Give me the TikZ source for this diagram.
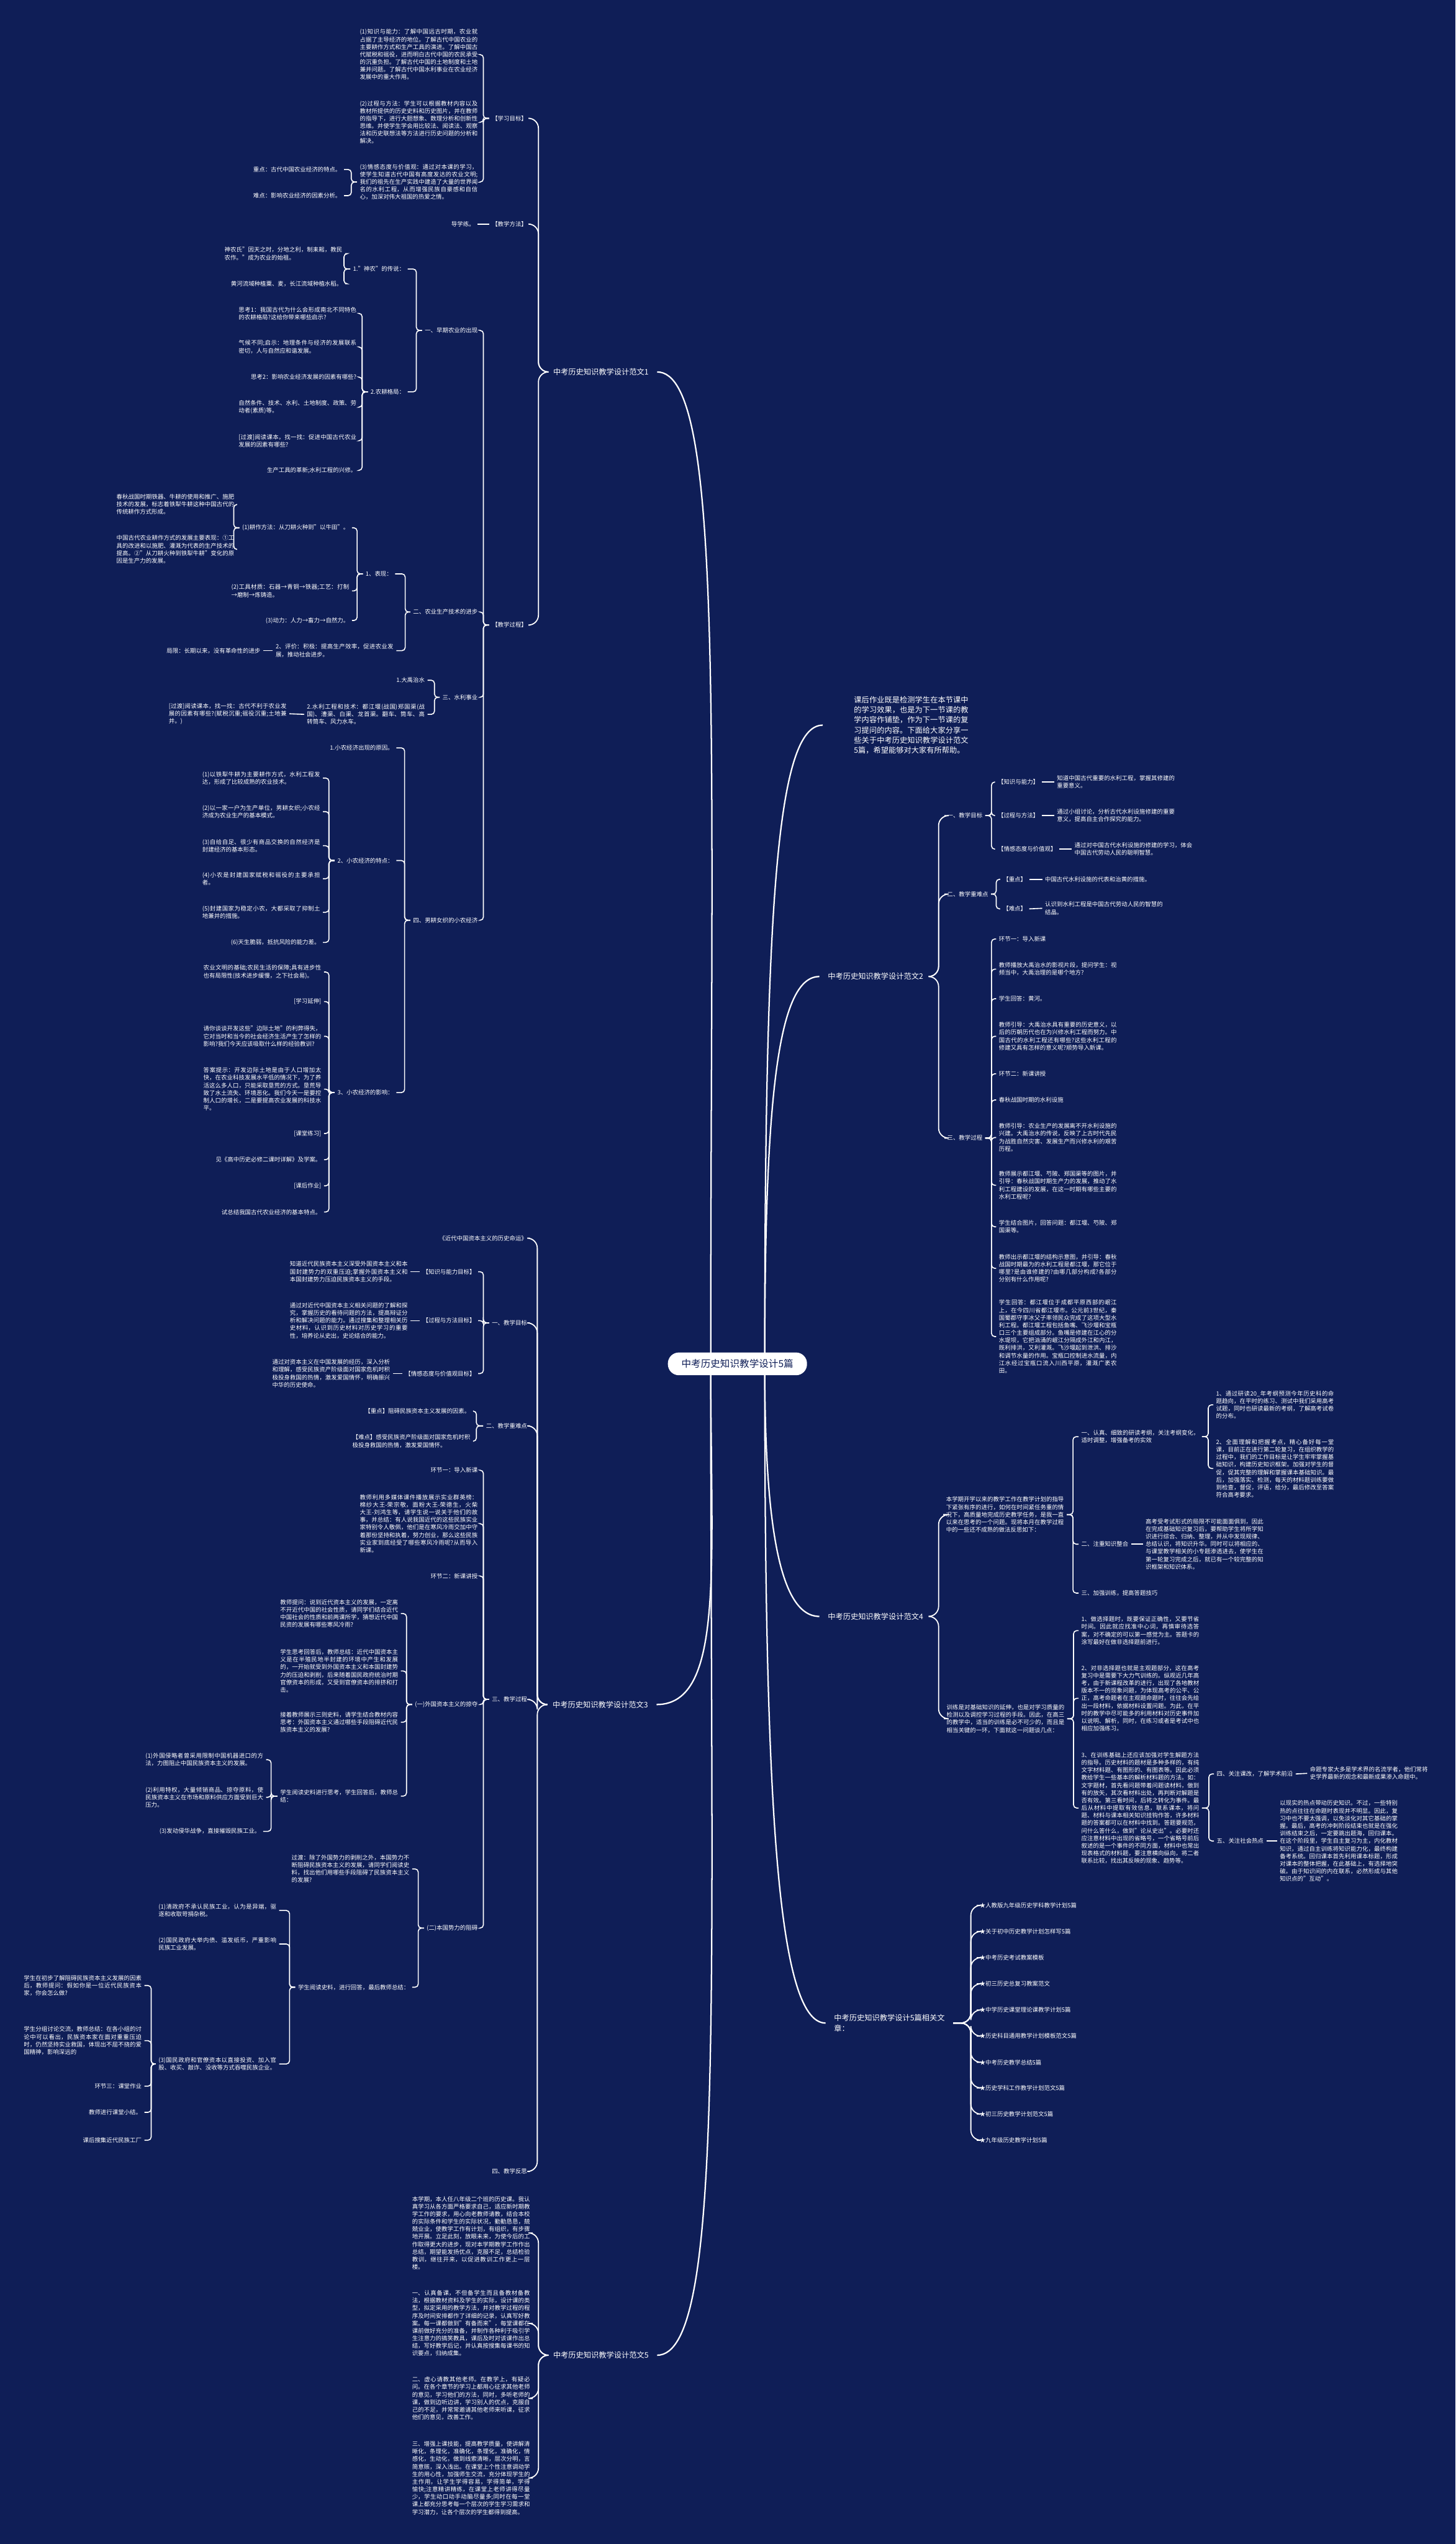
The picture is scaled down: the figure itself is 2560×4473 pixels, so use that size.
\documentclass[tikz,border=0pt]{standalone}
\usepackage{fontspec}
\setmainfont{Noto Sans CJK SC}
\usetikzlibrary{backgrounds}
\XeTeXlinebreaklocale "zh"
\XeTeXlinebreakskip=0pt plus 1pt
\tolerance=9999
\emergencystretch=4pt
\definecolor{bgnavy}{HTML}{0F1E57}
\newcommand{\fsS}{\fontsize{2.93pt}{3.78pt}\selectfont}
\newcommand{\fsH}{\fontsize{3.8pt}{5.06pt}\selectfont}
\newcommand{\fsR}{\fontsize{4.84pt}{6pt}\selectfont}

\begin{document}
\begin{tikzpicture}[
    x=0.01cm, y=-0.01cm,
    every node/.style={text=white, inner sep=0pt, outer xsep=0.05cm},
    lbl/.style={font=\fsS},
    txt/.style={font=\fsS, text width=2.07cm, align=justify},
    ll/.style={lbl, anchor=east}, lt/.style={txt, anchor=east},
    rl/.style={lbl, anchor=west}, rt/.style={txt, anchor=west},
    head/.style={font=\fsH, outer xsep=0.15cm},
    root/.style={font=\fsR, fill=white, text=bgnavy, rounded corners=5.5pt, inner xsep=0.24cm, minimum height=0.4cm},
    link/.style={draw=white, line width=0.5pt, rounded corners=1.6pt},
    trunk/.style={draw=white, line width=0.55pt, rounded corners=5pt},
    branch/.style={draw=white, line width=0.7pt}
]
\useasboundingbox (0,0) rectangle (2560,4473);

\node[root] (root) at (1297,2398) {中考历史知识教学设计5篇};

% intro
\node[font=\fsH, text width=2.01cm, align=justify, anchor=west, outer xsep=0.55cm] (intro) at (1447,1275) {课后作业既是检测学生在本节课中的学习效果，也是为下一节课的教学内容作铺垫，作为下一节课的复习提问的内容。下面给大家分享一些关于中考历史知识教学设计范文5篇，希望能够对大家有所帮助。};

% ---------- 范文1 ----------
\node[head, anchor=west] (f1) at (958,654) {中考历史知识教学设计范文1};
\node[ll] (f1a) at (932,208) {【学习目标】};
\node[ll] (f1b) at (932,394) {【教学方法】};
\node[ll] (f1c) at (932,1099) {【教学过程】};

\node[lt] (f1a1) at (845,96) {(1)知识与能力：了解中国远古时期，农业就占据了主导经济的地位。了解古代中国农业的主要耕作方式和生产工具的演进。了解中国古代赋税和徭役，进而明白古代中国的农民承受的沉重负担。了解古代中国的土地制度和土地兼并问题。了解古代中国水利事业在农业经济发展中的重大作用。};
\node[lt] (f1a2) at (845,215) {(2)过程与方法：学生可以根据教材内容以及教材所提供的历史史料和历史图片，并在教师的指导下，进行大胆想象、数理分析和创新性思维。并使学生学会用比较法、阅读法、观察法和历史联想法等方法进行历史问题的分析和解决。};
\node[lt] (f1a3) at (845,320) {(3)情感态度与价值观：通过对本课的学习，使学生知道古代中国有高度发达的农业文明;我们的祖先在生产实践中建造了大量的世界闻名的水利工程，从而增强民族自豪感和自信心，加深对伟大祖国的热爱之情。};
\node[ll] (f1a3a) at (605,298) {重点：古代中国农业经济的特点。};
\node[ll] (f1a3b) at (605,344) {难点：影响农业经济的因素分析。};
\node[ll] (f1b1) at (840,394) {导学练。};

\node[ll] (f1c1) at (845,581) {一、早期农业的出现};
\node[ll] (f1c2) at (845,1076) {二、农业生产技术的进步};
\node[ll] (f1c3) at (845,1226) {三、水利事业};
\node[ll] (f1c4) at (845,1618) {四、男耕女织的小农经济};

\node[ll] (f1c1a) at (717,473) {1."神农"的传说：};
\node[ll] (f1c1b) at (717,689) {2.农耕格局：};
\node[lt] (f1c1a1) at (607,446) {神农氏"因天之时，分地之利，制耒耜，教民农作。"成为农业的始祖。};
\node[ll] (f1c1a2) at (607,499) {黄河流域种植粟、麦，长江流域种植水稻。};
\node[lt] (f1c1b1) at (632,551) {思考1：我国古代为什么会形成南北不同特色的农耕格局?这给你带来哪些启示?};
\node[lt] (f1c1b2) at (632,610) {气候不同;启示：地理条件与经济的发展联系密切，人与自然应和谐发展。};
\node[ll] (f1c1b3) at (632,663) {思考2：影响农业经济发展的因素有哪些?};
\node[lt] (f1c1b4) at (632,716) {自然条件、技术、水利、土地制度、政策、劳动者(素质)等。};
\node[lt] (f1c1b5) at (632,775) {[过渡]阅读课本，找一找：促进中国古代农业发展的因素有哪些?};
\node[ll] (f1c1b6) at (632,827) {生产工具的革新;水利工程的兴修。};

\node[ll] (f1c2a) at (695,1009) {1、表现：};
\node[lt] (f1c2b) at (697,1144) {2、评价：积极：提高生产效率，促进农业发展，推动社会进步。};
\node[ll] (f1c2b1) at (463,1144) {局限：长期以来，没有革命性的进步};
\node[ll] (f1c2a1) at (619,928) {(1)耕作方法：从刀耕火种到"以牛田"。};
\node[lt] (f1c2a2) at (619,1039) {(2)工具材质：石器→青铜→铁器;工艺：打制→磨制→炼铸造。};
\node[ll] (f1c2a3) at (619,1091) {(3)动力：人力→畜力→自然力。};
\node[lt] (f1c2a1a) at (417,887) {春秋战国时期铁器、牛耕的使用和推广、施肥技术的发展，标志着铁犁牛耕这种中国古代的传统耕作方式形成。};
\node[lt] (f1c2a1b) at (417,966) {中国古代农业耕作方式的发展主要表现：①工具的改进和以施肥、灌溉为代表的生产技术的提高。②"从刀耕火种到铁犁牛耕"变化的原因是生产力的发展。};

\node[ll] (f1c3a) at (752,1196) {1.大禹治水};
\node[lt] (f1c3b) at (752,1256) {2.水利工程和技术：都江堰(战国)郑国渠(战国)、漕渠、白渠、龙首渠。翻车、筒车、高转筒车、风力水车。};
\node[lt] (f1c3b1) at (509,1255) {[过渡]阅读课本，找一找：古代不利于农业发展的因素有哪些?(赋税沉重;徭役沉重;土地兼并。)};

\node[ll] (f1c4a) at (697,1315) {1.小农经济出现的原因。};
\node[ll] (f1c4b) at (697,1513) {2、小农经济的特点：};
\node[ll] (f1c4c) at (697,1921) {3、小农经济的影响：};
\node[lt] (f1c4b1) at (568,1368) {(1)以铁犁牛耕为主要耕作方式，水利工程发达，形成了比较成熟的农业技术。};
\node[lt] (f1c4b2) at (568,1427) {(2)以一家一户为生产单位，男耕女织;小农经济成为农业生产的基本模式。};
\node[lt] (f1c4b3) at (568,1487) {(3)自给自足、很少有商品交换的自然经济是封建经济的基本形态。};
\node[lt] (f1c4b4) at (568,1545) {(4)小农是封建国家赋税和徭役的主要承担者。};
\node[lt] (f1c4b5) at (568,1604) {(5)封建国家为稳定小农，大都采取了抑制土地兼并的措施。};
\node[ll] (f1c4b6) at (568,1657) {(6)天生脆弱，抵抗风险的能力差。};
\node[lt] (f1c4c1) at (570,1709) {农业文明的基础;农民生活的保障;具有进步性也有局限性(技术进步缓慢，之下社会易)。};
\node[ll] (f1c4c2) at (570,1761) {[学习延伸]};
\node[lt] (f1c4c3) at (570,1822) {请你谈谈开发这些"边际土地"的利弊得失，它对当时和当今的社会经济生活产生了怎样的影响?我们今天应该吸取什么样的经验教训?};
\node[lt] (f1c4c4) at (570,1915) {答案提示：开发边际土地是由于人口增加太快，在农业科技发展水平低的情况下，为了养活这么多人口，只能采取垦荒的方式。垦荒导致了水土流失、环境恶化。我们今天一是要控制人口的增长，二是要提高农业发展的科技水平。};
\node[ll] (f1c4c5) at (570,1993) {[课堂练习]};
\node[ll] (f1c4c6) at (570,2039) {见《高中历史必修二课时详解》及学案。};
\node[ll] (f1c4c7) at (570,2085) {[课后作业]};
\node[ll] (f1c4c8) at (570,2131) {试总结我国古代农业经济的基本特点。};

% ---------- 范文3 ----------
\node[head, anchor=west] (f3) at (957,2997) {中考历史知识教学设计范文3};
\node[ll] (f3a) at (932,2177) {《近代中国资本主义的历史命运》};
\node[ll] (f3b) at (932,2326) {一、教学目标};
\node[ll] (f3c) at (932,2507) {二、教学重难点};
\node[ll] (f3d) at (932,2988) {三、教学过程};
\node[ll] (f3e) at (932,3818) {四、教学反思};

\node[ll] (f3b1) at (841,2236) {【知识与能力目标】};
\node[ll] (f3b2) at (841,2322) {【过程与方法目标】};
\node[ll] (f3b3) at (841,2415) {【情感态度与价值观目标】};
\node[lt] (f3b1t) at (722,2236) {知道近代民族资本主义深受外国资本主义和本国封建势力的双重压迫;掌握外国资本主义和本国封建势力压迫民族资本主义的手段。};
\node[lt] (f3b2t) at (722,2322) {通过对近代中国资本主义相关问题的了解和探究，掌握历史的看待问题的方法，提高辩证分析和解决问题的能力。通过搜集和整理相关历史材料，认识到历史材料对历史学习的重要性，培养论从史出，史论结合的能力。};
\node[lt] (f3b3t) at (691,2415) {通过对资本主义在中国发展的经历，深入分析和理解，感受民族资产阶级面对国家危机时积极投身救国的热情，激发爱国情怀，明确振兴中华的历史使命。};
\node[ll] (f3c1) at (832,2481) {【重点】阻碍民族资本主义发展的因素。};
\node[lt] (f3c2) at (832,2534) {【难点】感受民族资产阶级面对国家危机时积极投身救国的热情，激发爱国情怀。};

\node[ll] (f3d1) at (845,2585) {环节一：导入新课};
\node[lt] (f3d2) at (845,2679) {教师利用多媒体课件播放展示实业群英榜：棉纱大王-荣宗敬，面粉大王-荣德生，火柴大王-刘鸿生等，请学生说一说关于他们的故事，并总结：有人说我国近代的这些民族实业家特别令人敬佩，他们是在寒风冷雨交加中守着那份坚持和执着，努力创业，那么这些民族实业家到底经受了哪些寒风冷雨呢?从而导入新课。};
\node[ll] (f3d3) at (845,2771) {环节二：新课讲授};
\node[ll] (f3d4) at (845,2997) {(一)外国资本主义的掠夺};
\node[ll] (f3d5) at (845,3390) {(二)本国势力的阻碍};
\node[lt] (f3d4a) at (705,2837) {教师提问：说到近代资本主义的发展，一定离不开近代中国的社会性质，请同学们结合近代中国社会的性质和前两课所学，猜想近代中国民资的发展有哪些寒风冷雨?};
\node[lt] (f3d4b) at (705,2938) {学生思考回答后，教师总结：近代中国资本主义是在半殖民地半封建的环境中产生和发展的，一开始就受到外国资本主义和本国封建势力的压迫和剥削，后来随着国民政府统治时期官僚资本的形成，又受到官僚资本的排挤和打击。};
\node[lt] (f3d4c) at (705,3028) {接着教师展示三则史料，请学生结合教材内容思考：外国资本主义通过哪些手段阻碍近代民族资本主义的发展?};
\node[lt] (f3d4d) at (705,3158) {学生阅读史料进行思考，学生回答后，教师总结：};
\node[lt] (f3d4d1) at (468,3094) {(1)外国侵略者曾采用限制中国机器进口的方法，力图阻止中国民族资本主义的发展。};
\node[lt] (f3d4d2) at (468,3160) {(2)利用特权，大量倾销商品、掠夺原料，使民族资本主义在市场和原料供应方面受到巨大压力。};
\node[ll] (f3d4d3) at (463,3220) {(3)发动侵华战争，直接摧毁民族工业。};
\node[lt] (f3d5a) at (725,3286) {过渡：除了外国势力的剥削之外，本国势力不断阻碍民族资本主义的发展，请同学们阅读史料，找出他们用哪些手段阻碍了民族资本主义的发展?};
\node[ll] (f3d5b) at (725,3494) {学生阅读史料，进行回答，最后教师总结：};
\node[lt] (f3d5b1) at (491,3359) {(1)清政府不承认民族工业，认为是异端，驱逐和收取苛捐杂税。};
\node[lt] (f3d5b2) at (491,3418) {(2)国民政府大举内债、滥发纸币，严重影响民族工业发展。};
\node[lt] (f3d5b3) at (491,3629) {(3)国民政府和官僚资本以直接投资、加入官股、收买、敲诈、没收等方式吞噬民族企业。};
\node[lt] (f3d5b3a) at (254,3491) {学生在初步了解阻碍民族资本主义发展的因素后，教师提问：假如你是一位近代民族资本家，你会怎么做?};
\node[lt] (f3d5b3b) at (254,3588) {学生分组讨论交流，教师总结：在各小组的讨论中可以看出，民族资本家在面对重重压迫时，仍然坚持实业救国，体现出不屈不挠的爱国精神，影响深远的};
\node[ll] (f3d5b3c) at (254,3668) {环节三：课堂作业};
\node[ll] (f3d5b3d) at (254,3714) {教师进行课堂小结。};
\node[ll] (f3d5b3e) at (254,3763) {课后搜集近代民族工厂};

% ---------- 范文5 ----------
\node[head, anchor=west] (f5) at (958,4141) {中考历史知识教学设计范文5};
\node[lt] (f5a) at (937,3926) {本学期，本人任八年级二个班的历史课。我认真学习从各方面严格要求自己，适应新时期教学工作的要求，用心向老教师请教，结合本校的实际条件和学生的实际状况，勤勤恳恳，兢兢业业，使教学工作有计划，有组织，有步骤地开展。立足此刻，放眼未来，为使今后的工作取得更大的进步，现对本学期教学工作作出总结，期望能发扬优点，克服不足，总结检验教训，继往开来，以促进教训工作更上一层楼。};
\node[lt] (f5b) at (937,4085) {一、认真备课，不但备学生而且备教材备教法，根据教材资料及学生的实际，设计课的类型，拟定采用的教学方法，并对教学过程的程序及时间安排都作了详细的记录，认真写好教案。每一课都做到"有备而来"，每堂课都在课前做好充分的准备，并制作各种利于吸引学生注意力的搞笑教具，课后及时对该课作出总结，写好教学后记，并认真按搜集每课书的知识要点，归纳成集。};
\node[lt] (f5c) at (937,4217) {二、虚心请教其他老师。在教学上，有疑必问。在各个章节的学习上都用心征求其他老师的意见，学习他们的方法，同时，多听老师的课，做到边听边讲，学习别人的优点，克服自己的不足，并常常邀请其他老师来听课，征求他们的意见，改善工作。};
\node[lt] (f5d) at (937,4357) {三、增强上课技能，提高教学质量，使讲解清晰化，条理化，准确化，条理化，准确化，情感化，生动化，做到线索清晰，层次分明，言简意赅，深入浅出。在课堂上个性注意调动学生的用心性，加强师生交流，充分体现学生的主作用，让学生学得容易，学得简单，学得愉快;注意精讲精练，在课堂上老师讲得尽量少，学生动口动手动脑尽量多;同时在每一堂课上都充分思考每一个层次的学生学习需求和学习潜力，让各个层次的学生都得到提高。};

% ---------- 范文2 ----------
\node[head, anchor=west] (f2) at (1441,1717) {中考历史知识教学设计范文2};
\node[rl] (f2a) at (1661,1434) {一、教学目标};
\node[rl] (f2b) at (1661,1572) {二、教学重难点};
\node[rl] (f2c) at (1661,2001) {三、教学过程};
\node[rl] (f2a1) at (1750,1375) {【知识与能力】};
\node[rl] (f2a2) at (1750,1434) {【过程与方法】};
\node[rl] (f2a3) at (1750,1493) {【情感态度与价值观】};
\node[rt] (f2a1t) at (1854,1375) {知道中国古代重要的水利工程，掌握其修建的重要意义。};
\node[rt] (f2a2t) at (1854,1434) {通过小组讨论，分析古代水利设施修建的重要意义，提高自主合作探究的能力。};
\node[rt] (f2a3t) at (1885,1493) {通过对中国古代水利设施的修建的学习，体会中国古代劳动人民的聪明智慧。};
\node[rl] (f2b1) at (1759,1546) {【重点】};
\node[rl] (f2b2) at (1759,1598) {【难点】};
\node[rl] (f2b1t) at (1833,1546) {中国古代水利设施的代表和治黄的措施。};
\node[rt] (f2b2t) at (1833,1597) {认识到水利工程是中国古代劳动人民的智慧的结晶。};
\node[rl] (f2c1) at (1752,1651) {环节一：导入新课};
\node[rt] (f2c2) at (1752,1704) {教师播放大禹治水的影视片段，提问学生：视频当中，大禹治理的是哪个地方?};
\node[rl] (f2c3) at (1752,1756) {学生回答：黄河。};
\node[rt] (f2c4) at (1752,1822) {教师引导：大禹治水具有重要的历史意义，以后的历朝历代也在为兴修水利工程而努力。中国古代的水利工程还有哪些?这些水利工程的修建又具有怎样的意义呢?顺势导入新课。};
\node[rl] (f2c5) at (1752,1888) {环节二：新课讲授};
\node[rl] (f2c6) at (1752,1934) {春秋战国时期的水利设施};
\node[rt] (f2c7) at (1752,2000) {教师引导：农业生产的发展离不开水利设施的兴建。大禹治水的传说，反映了上古时代先民为战胜自然灾害、发展生产而兴修水利的艰苦历程。};
\node[rt] (f2c8) at (1752,2084) {教师展示都江堰、芍陂、郑国渠等的图片，并引导：春秋战国时期生产力的发展，推动了水利工程建设的发展，在这一时期有哪些主要的水利工程呢?};
\node[rt] (f2c9) at (1752,2157) {学生结合图片，回答问题：都江堰、芍陂、郑国渠等。};
\node[rt] (f2c10) at (1752,2230) {教师出示都江堰的结构示意图，并引导：春秋战国时期最为的水利工程是都江堰，那它位于哪里?是由谁修建的?由哪几部分构成?各部分分别有什么作用呢?};
\node[rt] (f2c11) at (1752,2350) {学生回答：都江堰位于成都平原西部的岷江上，在今四川省都江堰市。公元前3世纪，秦国蜀郡守李冰父子率领民众完成了这项大型水利工程。都江堰工程包括鱼嘴、飞沙堰和宝瓶口三个主要组成部分。鱼嘴是修建在江心的分水堤坝，它把汹涌的岷江分隔成外江和内江，既利排洪，又利灌溉。飞沙堰起到泄洪、排沙和调节水量的作用。宝瓶口控制进水流量，内江水经过宝瓶口流入川西平原，灌溉广袤农田。};

% ---------- 范文4 ----------
\node[head, anchor=west] (f4) at (1441,2842) {中考历史知识教学设计范文4};
\node[rt] (f4a) at (1659,2663) {本学期开学以来的教学工作在教学计划的指导下紧张有序的进行，如何在时间紧任务重的情况下，高质量地完成历史教学任务，是我一直以来在思考的一个问题。现将本月在教学过程中的一些还不成熟的做法反思如下：};
\node[rt] (f4a1) at (1897,2526) {一、认真、细致的研读考纲，关注考纲变化，适时调整，增强备考的实效};
\node[rt] (f4a1a) at (2134,2470) {1、通过研读20\_年考纲预测今年历史科的命题趋向，在平时的练习、测试中我们采用高考试题，同时也研读最新的考纲，了解高考试卷的分布。};
\node[rt] (f4a1b) at (2134,2582) {2、全面理解和把握考点，精心备好每一堂课，目前正在进行第二轮复习，在组织教学的过程中，我们的工作目标是让学生牢牢掌握基础知识，构建历史知识框架。加强对学生的督促，促其完整的理解和掌握课本基础知识。最后，加强落实、检测，每天的材料题训练要做到检查，督促，评语，给分，最后修改至答案符合高考要求。};
\node[rl] (f4a2) at (1897,2715) {二、注重知识整合};
\node[rt] (f4a2t) at (2010,2715) {高考受考试形式的局限不可能面面俱到，因此在完成基础知识复习后，要帮助学生将所学知识进行综合、归纳、整理，并从中发现规律、总结认识，将知识升华。同时可以将相应的、与课堂教学相关的小专题渗透进去，使学生在第一轮复习完成之后，就已有一个较完整的知识框架和知识体系。};
\node[rl] (f4a3) at (1897,2801) {三、加强训练，提高答题技巧};
\node[rt] (f4b) at (1660,3022) {训练是对基础知识的延伸，也是对学习质量的检测以及调控学习过程的手段。因此，在高三的教学中，适当的训练是必不可少的，而且是相当关键的一环，下面就这一问题谈几点：};
\node[rt] (f4b1) at (1897,2867) {1、做选择题时，既要保证正确性，又要节省时间。因此就应找准中心词，再慎审待选答案，对不确定的可以第一感觉为主。答题卡的涂写最好在做非选择题前进行。};
\node[rt] (f4b2) at (1897,2986) {2、对非选择题也就是主观题部分，这在高考复习中是需要下大力气训练的。纵观近几年高考，由于新课程改革的进行，出现了各地教材版本不一的现象问题，为体现高考的公平、公正，高考命题者在主观题命题时，往往会先给出一段材料，依据材料设置问题。为此，在平时的教学中尽可能多的利用材料对历史事件加以说明、解析，同时，在练习或者是考试中也相应加强练习。};
\node[rt] (f4b3) at (1897,3179) {3、在训练基础上还应该加强对学生解题方法的指导。历史材料的题材是多种多样的，有纯文字材料题、有图形的、有图表等。因此必须教给学生一些基本的解析材料题的方法。如：文字题材，首先看问题带着问题读材料，做到有的放矢，其次看材料出处，再判断对解题是否有效。第三看时间，后将之转化为事件。最后从材料中提取有效信息，联系课本，将问题、材料与课本相关知识挂钩作答，许多材料题的答案都可以在材料中找到。答题要规范，问什么答什么，做到"论从史出"。必要时还应注意材料中出现的省略号，一个省略号前后叙述的是一个事件的不同方面，材料中也常出现表格式的材料题，要注意横向纵向，将二者联系比较，找出其反映的现象、趋势等。};
\node[rl] (f4b3a) at (2135,3119) {四、关注课改，了解学术前沿};
\node[rt] (f4b3at) at (2299,3118) {命题专家大多是学术界的名流学者，他们常将史学界最新的观念和最新成果渗入命题中。};
\node[rl] (f4b3b) at (2135,3237) {五、关注社会热点};
\node[rt] (f4b3bt) at (2246,3237) {以现实的热点带动历史知识。不过，一些特别热的点往往在命题时表现并不明显。因此，复习中也不要太强调，以免淡化对其它基础的掌握。最后，高考的冲刺阶段结束也就是在强化训练结束之后，一定要跳出题海，回归课本。在这个阶段里，学生自主复习为主，内化教材知识，通过自主训练将知识能力化，最终构建备考系统。回归课本首先利用课本标题，形成对课本的整体把握，在此基础上，有选择地突破。由于知识间的内在联系，必然形成与其他知识点的"互动"。};

% ---------- 相关文章 ----------
\node[head, anchor=west, align=left] (rel) at (1452,3557) {中考历史知识教学设计5篇相关文\\章：};
\node[rl] (r1) at (1718,3350) {★人教版九年级历史学科教学计划5篇};
\node[rl] (r2) at (1718,3396) {★关于初中历史教学计划怎样写5篇};
\node[rl] (r3) at (1718,3442) {★中考历史考试教案模板};
\node[rl] (r4) at (1718,3488) {★初三历史总复习教案范文};
\node[rl] (r5) at (1718,3534) {★中学历史课堂理论课教学计划5篇};
\node[rl] (r6) at (1718,3580) {★历史科目通用教学计划模板范文5篇};
\node[rl] (r7) at (1718,3626) {★中考历史教学总结5篇};
\node[rl] (r8) at (1718,3671) {★历史学科工作教学计划范文5篇};
\node[rl] (r9) at (1718,3717) {★初三历史教学计划范文5篇};
\node[rl] (r10) at (1718,3763) {★九年级历史教学计划5篇};

% connectors
\begin{scope}[on background layer]
\fill[bgnavy] (0,0) rectangle (2560,4473);
\draw[branch] (1250,2398) .. controls (1250,1300) and (1275,654) .. (f1.east);
\draw[branch] (1250,2398) .. controls (1250,2750) and (1275,2997) .. (f3.east);
\draw[branch] (1250,2398) .. controls (1250,3500) and (1275,4141) .. (f5.east);
\draw[branch] (1345,2398) .. controls (1345,1600) and (1365,1275) .. (intro.west);
\draw[branch] (1345,2398) .. controls (1345,1950) and (1365,1717) .. (f2.west);
\draw[branch] (1345,2398) .. controls (1345,2650) and (1365,2842) .. (f4.west);
\draw[branch] (1345,2398) .. controls (1345,3150) and (1365,3557) .. (rel.west);

\foreach \c in {f1a,f1b,f1c} \draw[trunk] (f1.west) -- ++(-11,0) |- (\c.east);
\foreach \c in {f1a1,f1a2,f1a3} \draw[link] (f1a.west) -- ++(-10,0) |- (\c.east);
\foreach \c in {f1a3a,f1a3b} \draw[link] (f1a3.west) -- ++(-10,0) |- (\c.east);
\draw[link] (f1b.west) -- (f1b1.east);
\foreach \c in {f1c1,f1c2,f1c3,f1c4} \draw[link] (f1c.west) -- ++(-10,0) |- (\c.east);
\foreach \c in {f1c1a,f1c1b} \draw[link] (f1c1.west) -- ++(-10,0) |- (\c.east);
\foreach \c in {f1c1a1,f1c1a2} \draw[link] (f1c1a.west) -- ++(-11,0) |- (\c.east);
\foreach \c in {f1c1b1,f1c1b2,f1c1b3,f1c1b4,f1c1b5,f1c1b6} \draw[link] (f1c1b.west) -- ++(-10,0) |- (\c.east);
\foreach \c in {f1c2a,f1c2b} \draw[link] (f1c2.west) -- ++(-9,0) |- (\c.east);
\foreach \c in {f1c2a1,f1c2a2,f1c2a3} \draw[link] (f1c2a.west) -- ++(-10,0) |- (\c.east);
\foreach \c in {f1c2a1a,f1c2a1b} \draw[link] (f1c2a1.west) -- ++(-10,0) |- (\c.east);
\draw[link] (f1c2b.west) -- (f1c2b1.east);
\foreach \c in {f1c3a,f1c3b} \draw[link] (f1c3.west) -- ++(-9,0) |- (\c.east);
\draw[link] (f1c3b.west) -- (f1c3b1.east);
\foreach \c in {f1c4a,f1c4b,f1c4c} \draw[link] (f1c4.west) -- ++(-10,0) |- (\c.east);
\foreach \c in {f1c4b1,f1c4b2,f1c4b3,f1c4b4,f1c4b5,f1c4b6} \draw[link] (f1c4b.west) -- ++(-10,0) |- (\c.east);
\foreach \c in {f1c4c1,f1c4c2,f1c4c3,f1c4c4,f1c4c5,f1c4c6,f1c4c7,f1c4c8} \draw[link] (f1c4c.west) -- ++(-10,0) |- (\c.east);

\foreach \c in {f3a,f3b,f3c,f3d,f3e} \draw[trunk] (f3.west) -- ++(-12,0) |- (\c.east);
\foreach \c in {f3b1,f3b2,f3b3} \draw[link] (f3b.west) -- ++(-10,0) |- (\c.east);
\draw[link] (f3b1.west) -- (f3b1t.east);
\draw[link] (f3b2.west) -- (f3b2t.east);
\draw[link] (f3b3.west) -- (f3b3t.east);
\foreach \c in {f3c1,f3c2} \draw[link] (f3c.west) -- ++(-12,0) |- (\c.east);
\foreach \c in {f3d1,f3d2,f3d3,f3d4,f3d5} \draw[link] (f3d.west) -- ++(-10,0) |- (\c.east);
\foreach \c in {f3d4a,f3d4b,f3d4c,f3d4d} \draw[link] (f3d4.west) -- ++(-10,0) |- (\c.east);
\foreach \c in {f3d4d1,f3d4d2,f3d4d3} \draw[link] (f3d4d.west) -- ++(-11,0) |- (\c.east);
\foreach \c in {f3d5a,f3d5b} \draw[link] (f3d5.west) -- ++(-10,0) |- (\c.east);
\foreach \c in {f3d5b1,f3d5b2,f3d5b3} \draw[link] (f3d5b.west) -- ++(-10,0) |- (\c.east);
\foreach \c in {f3d5b3a,f3d5b3b,f3d5b3c,f3d5b3d,f3d5b3e} \draw[link] (f3d5b3.west) -- ++(-8,0) |- (\c.east);

\foreach \c in {f5a,f5b,f5c,f5d} \draw[trunk] (f5.west) -- ++(-11,0) |- (\c.east);

\foreach \c in {f2a,f2b,f2c} \draw[trunk] (f2.east) -- ++(12,0) |- (\c.west);
\foreach \c in {f2a1,f2a2,f2a3} \draw[link] (f2a.east) -- ++(11,0) |- (\c.west);
\draw[link] (f2a1.east) -- (f2a1t.west);
\draw[link] (f2a2.east) -- (f2a2t.west);
\draw[link] (f2a3.east) -- (f2a3t.west);
\foreach \c in {f2b1,f2b2} \draw[link] (f2b.east) -- ++(9,0) |- (\c.west);
\draw[link] (f2b1.east) -- (f2b1t.west);
\draw[link] (f2b2.east) -- (f2b2t.west);
\foreach \c in {f2c1,f2c2,f2c3,f2c4,f2c5,f2c6,f2c7,f2c8,f2c9,f2c10,f2c11} \draw[link] (f2c.east) -- ++(11,0) |- (\c.west);

\foreach \c in {f4a,f4b} \draw[trunk] (f4.east) -- ++(12,0) |- (\c.west);
\foreach \c in {f4a1,f4a2,f4a3} \draw[link] (f4a.east) -- ++(11,0) |- (\c.west);
\foreach \c in {f4a1a,f4a1b} \draw[link] (f4a1.east) -- ++(11,0) |- (\c.west);
\draw[link] (f4a2.east) -- (f4a2t.west);
\foreach \c in {f4b1,f4b2,f4b3} \draw[link] (f4b.east) -- ++(11,0) |- (\c.west);
\foreach \c in {f4b3a,f4b3b} \draw[link] (f4b3.east) -- ++(12,0) |- (\c.west);
\draw[link] (f4b3a.east) -- (f4b3at.west);
\draw[link] (f4b3b.east) -- (f4b3bt.west);

\foreach \c in {r1,r2,r3,r4,r5,r6,r7,r8,r9,r10} \draw[trunk] (rel.east) -- ++(31,0) |- (\c.west);
\end{scope}
\end{tikzpicture}
\end{document}
